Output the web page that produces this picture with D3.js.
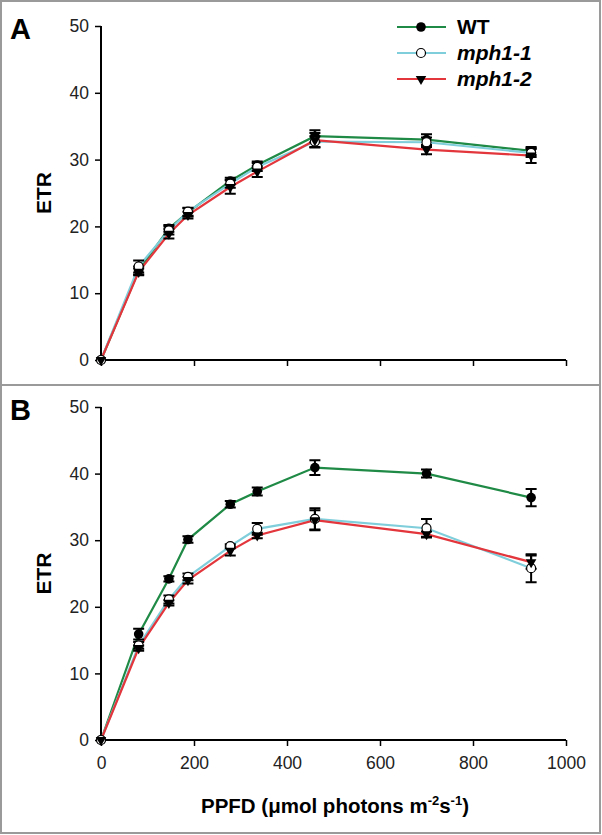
<!DOCTYPE html>
<html><head><meta charset="utf-8">
<script src="https://cdn.jsdelivr.net/npm/d3@7"></script>
<style>body{margin:0;background:#fff}svg{display:block}</style>
</head><body>
<script>
const ppfd = [0, 81, 146, 187, 278, 336, 460, 700, 925];
const seriesNames = ["WT", "mph1-1", "mph1-2"];
// Panel A values and errors
const A_WT   = [0, 13.4, 19.7, 22.1, 26.8, 29.2, 33.5, 33.0, 31.3];
const A_WT_e = [0, 0.6, 0.5, 0.6, 0.5, 0.5, 0.9, 0.8, 0.6];
const A_m1   = [0, 14.0, 19.4, 22.2, 26.4, 28.9, 32.7, 32.6, 31.0];
const A_m1_e = [0, 0.9, 0.6, 0.6, 0.6, 0.6, 0.8, 0.7, 0.6];
const A_m2   = [0, 13.2, 18.9, 21.7, 25.9, 28.2, 32.9, 31.5, 30.6];
const A_m2_e = [0, 0.5, 0.7, 0.5, 1.0, 0.8, 1.1, 0.7, 1.1];
// Panel B values and errors
const B_WT   = [0, 15.9, 24.2, 30.1, 35.4, 37.3, 40.9, 40.0, 36.4];
const B_WT_e = [0, 0.8, 0.4, 0.5, 0.5, 0.6, 1.1, 0.6, 1.3];
const B_m1   = [0, 14.2, 21.1, 24.5, 29.1, 31.7, 33.2, 31.8, 25.8];
const B_m1_e = [0, 0.5, 0.6, 0.5, 0.3, 0.9, 1.6, 1.4, 2.1];
const B_m2   = [0, 13.8, 20.6, 24.0, 28.4, 30.7, 33.0, 30.9, 26.7];
const B_m2_e = [0, 0.4, 0.4, 0.5, 0.7, 0.4, 1.5, 0.4, 1.0];
const xTicks = [0, 200, 400, 600, 800, 1000];
const yTicks = [0, 10, 20, 30, 40, 50];
const colors = ["#1f8a45", "#7fcedb", "#e2363c"];

const W = 602, H = 835;
const svg = d3.select("body").append("svg").attr("width", W).attr("height", H);
const FONT = "Liberation Sans, Arial, sans-serif";

// panel frames
svg.append("rect").attr("x",1).attr("y",1).attr("width",599).attr("height",384)
  .attr("fill","none").attr("stroke","#9a9a9a").attr("stroke-width",2);
svg.append("rect").attr("x",1).attr("y",385).attr("width",599).attr("height",448)
  .attr("fill","none").attr("stroke","#9a9a9a").attr("stroke-width",2);

const x = d3.scaleLinear().domain([0,1000]).range([101, 566]);

function panel(label, top, bottom, data, showXLabels) {
  const y = d3.scaleLinear().domain([0,50]).range([bottom, top]);
  const g = svg.append("g");
  const ya = g.append("g").attr("transform", `translate(${x(0)},0)`)
    .call(d3.axisLeft(y).tickValues(yTicks).tickSize(6).tickPadding(6).tickFormat(d3.format("d")));
  const xa = g.append("g").attr("transform", `translate(0,${y(0)})`)
    .call(d3.axisBottom(x).tickValues(xTicks).tickSize(6).tickPadding(11)
      .tickFormat(showXLabels ? d3.format("d") : ""));
  [ya, xa].forEach(a => {
    a.select(".domain").attr("stroke","#000").attr("stroke-width",2);
    a.selectAll(".tick line").attr("stroke","#000").attr("stroke-width",1.5);
    a.selectAll(".tick text").attr("font-family",FONT).attr("font-size",17.5).attr("fill","#222");
  });
  ya.select(".domain").attr("d", `M-0,${bottom}V${top}`);
  xa.select(".domain").attr("d", `M${x(0)},0H${x(1000)}`);

  g.append("text").attr("x",10).attr("y",top+13).attr("font-family",FONT)
    .attr("font-weight","bold").attr("font-size",29).text(label);
  g.append("text").attr("transform",`translate(${51},${(top+bottom)/2}) rotate(-90)`)
    .attr("text-anchor","middle").attr("font-family",FONT).attr("font-weight","bold")
    .attr("font-size",21).text("ETR");

  const line = d3.line().x((d,i)=>x(ppfd[i])).y(d=>y(d));
  data.forEach((s,k) => {
    g.append("path").attr("d", line(s.v)).attr("fill","none")
      .attr("stroke", colors[k]).attr("stroke-width", 2.2);
  });
  data.forEach((s,k) => {
    s.v.forEach((v,i) => {
      const e = s.e[i];
      if (e > 0) {
        const cx = x(ppfd[i]);
        g.append("path").attr("d",
          `M${cx},${y(v+e)}V${y(v-e)}M${cx-5.5},${y(v+e)}H${cx+5.5}M${cx-5.5},${y(v-e)}H${cx+5.5}`)
          .attr("stroke","#000").attr("stroke-width",2).attr("fill","none");
      }
    });
  });
  data.forEach((s,k) => {
    s.v.forEach((v,i) => marker(g, k, x(ppfd[i]), y(v)));
  });
}

function marker(g, k, cx, cy) {
  if (k === 0) g.append("circle").attr("cx",cx).attr("cy",cy).attr("r",4.8).attr("fill","#000");
  else if (k === 1) g.append("circle").attr("cx",cx).attr("cy",cy).attr("r",4.5)
    .attr("fill","#fff").attr("stroke","#000").attr("stroke-width",1.2);
  else g.append("path").attr("d", d3.symbol().type(d3.symbolTriangle).size(48)())
    .attr("transform",`translate(${cx},${cy}) rotate(180)`).attr("fill","#000");
}

panel("A", 26, 360, [{v:A_WT,e:A_WT_e},{v:A_m1,e:A_m1_e},{v:A_m2,e:A_m2_e}], false);
panel("B", 407, 740, [{v:B_WT,e:B_WT_e},{v:B_m1,e:B_m1_e},{v:B_m2,e:B_m2_e}], true);

// legend
const leg = svg.append("g");
seriesNames.forEach((n,k) => {
  const ly = 27 + k*26;
  leg.append("line").attr("x1",397).attr("x2",446).attr("y1",ly).attr("y2",ly)
    .attr("stroke",colors[k]).attr("stroke-width",2.2);
  marker(leg, k, 421, ly);
  leg.append("text").attr("x",457).attr("y",ly+7).attr("font-family",FONT)
    .attr("font-weight","bold").attr("font-style", k===0 ? "normal" : "italic")
    .attr("font-size",21).text(n);
});

// x-axis title
const t = svg.append("text").attr("x",335).attr("y",813).attr("text-anchor","middle")
  .attr("font-family",FONT).attr("font-weight","bold").attr("font-size",20.5);
t.append("tspan").text("PPFD (\u03bcmol photons m");
t.append("tspan").attr("dy",-8).attr("font-size",13).text("-2");
t.append("tspan").attr("dy",8).text("s");
t.append("tspan").attr("dy",-8).attr("font-size",13).text("-1");
t.append("tspan").attr("dy",8).text(")");
</script>
</body></html>
